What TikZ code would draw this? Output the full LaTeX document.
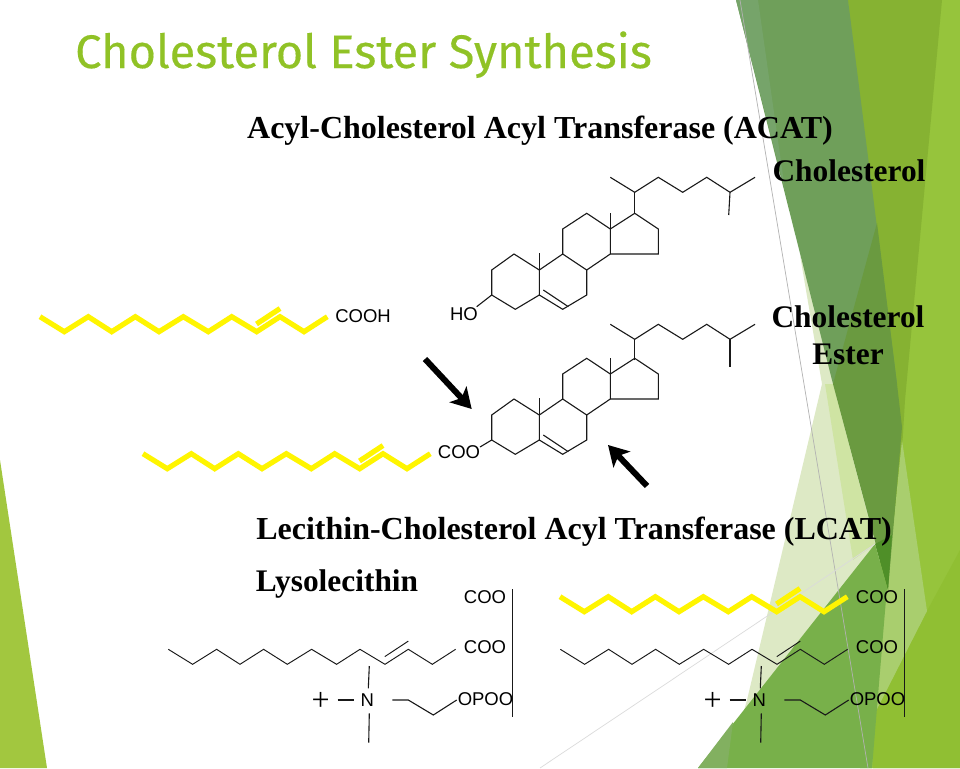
\documentclass[tikz,border=0pt]{standalone}
\usepackage{fontspec}
\setmainfont{Liberation Serif}
\newfontfamily\labelfont{Liberation Sans}
\newfontfamily\titlefont[FakeBold=0.35]{Fira Sans}
\usetikzlibrary{arrows.meta}
\definecolor{titlegreen}{HTML}{90C226}
\definecolor{facetleft}{HTML}{A2C73F}
\definecolor{facetbase}{HTML}{96C43C}
\definecolor{facetmid}{HTML}{86B232}
\definecolor{facetlow}{HTML}{90BF33}
\definecolor{facetlight}{HTML}{A9CE6E}
\definecolor{paleA}{HTML}{DDE9C5}
\definecolor{paleB}{HTML}{CFE4A3}
\definecolor{bandmain}{HTML}{6F9F5A}
\definecolor{bandedge}{HTML}{76A46A}
\definecolor{bandlow}{HTML}{6A9A40}
\definecolor{bandtip}{HTML}{4F8F28}
\definecolor{lowgreen}{HTML}{78B04A}
\definecolor{lowcorner}{HTML}{82B060}
\definecolor{fattyyellow}{HTML}{FFF500}
\tikzset{
  bond/.style={line width=1.1pt,black!90,line join=miter},
  fatty/.style={line width=5.2pt,fattyyellow,line join=miter},
  thinchain/.style={line width=0.95pt,black!90,line join=miter},
  bigarrow/.style={line width=6pt,black,-{Stealth[length=20pt,width=23pt,inset=5pt]}},
  head/.style={font=\bfseries\fontsize{32}{34}\selectfont,inner sep=0pt,anchor=base,text=black},
  subhead/.style={font=\bfseries\fontsize{31.4}{34}\selectfont,inner sep=0pt,anchor=base,text=black},
  atom/.style={font=\labelfont\fontsize{18.5}{20}\selectfont,inner sep=0pt,anchor=base,text=black},
  charge/.style={font=\rmfamily\fontsize{32}{34}\selectfont,inner sep=0pt,anchor=base,text=black},
}
\newcommand{\sterolrings}{%
  \draw[bond] (491.7,295) -- (491.7,270) -- (514,254) -- (539.3,270) -- (539.3,295) -- (515.3,309.3) -- cycle;
  \draw[bond] (539.3,270) -- (562.7,254) -- (586.7,270) -- (586.7,295) -- (562.7,309.3) -- (539.3,295);
  \draw[bond] (562.7,254) -- (562.7,229) -- (586.7,213.3) -- (610.3,229) -- (610.3,254) -- (586.7,270);
  \draw[bond] (610.3,254) -- (658.3,254) -- (658.3,229) -- (634.7,213.3) -- (610.3,229);
  \draw[bond] (610.3,229) -- (610.3,213.3);
  \draw[bond] (539.3,270) -- (539.3,253.3);
  \draw[bond] (543.3,290) -- (568.3,306.7);
}
\newcommand{\sidechain}{%
  \draw[bond] (634.7,213.3) -- (634.7,192.3);
  \draw[bond] (610.3,177.3) -- (634.7,192.3) -- (658.3,177.3) -- (682.7,192.3) -- (706.7,177.3) -- (730,192.3) -- (755,177.3);
}
\newcommand{\acylchain}[1]{%
  \draw[#1] (40,316.7) -- (64.3,331.7) -- (88.3,316.7) -- (111.7,331.7) -- (135.3,316.7) -- (159,331.7) -- (183.3,316.7) -- (208.3,331.7) -- (231.7,316.7) -- (256.7,331.7) -- (280,316.7) -- (304,331.7) -- (327.3,316.7);
  \draw[#1] (256.5,324) -- (280,308.5);
}
\newcommand{\lecithin}{%
  \begin{scope}[shift={(128.3,332.6)}]\acylchain{thinchain}\end{scope}
  \draw[bond] (512.3,589.3) -- (512.3,717.3);
  \node[atom] at (485,603) {COO};
  \node[atom] at (485,653) {COO};
  \node[atom] at (485.5,705) {OPOO};
  \node[atom] at (367.3,706) {N};
  \node[charge] at (320.7,710) {+};
  \draw[bond] (337.7,700) -- (354,700);
  \draw[bond] (369.3,666) -- (368.3,688.3);
  \draw[bond] (369.3,713.3) -- (368.7,742.7);
  \draw[bond] (392.3,700) -- (408.3,700) -- (433.3,715) -- (456.7,700);
}
\begin{document}
\begin{tikzpicture}[x=1pt,y=-1pt]
\useasboundingbox (0,0) rectangle (960,768);
\fill[white] (0,0) rectangle (960,768);
% background facets
\fill[facetleft] (0,460) -- (47,768) -- (0,768) -- cycle;
\fill[facetbase] (848,0) -- (960,0) -- (960,768) -- (860,768) -- cycle;
\fill[facetlow] (873,717) -- (927,611) -- (960,550) -- (960,768) -- (873,768) -- cycle;
\fill[facetmid] (848,0) -- (942,0) -- (905,400) -- (902,450) -- (888,590) -- cycle;
\fill[facetlight] (902,440) -- (927,611) -- (873,717) -- (887,587) -- cycle;
\fill[paleA] (800,255) -- (822,384) -- (747,700) -- (730,760) -- (880,560) -- (840,384) -- cycle;
\fill[paleB] (825,384) -- (833,384) -- (875,544) -- (853,560) -- cycle;
\fill[bandmain] (736,0) -- (848,0) -- (897,384) -- (833,384) -- cycle;
\fill[bandedge] (736,0) -- (758,0) -- (785,190) -- cycle;
\fill[bandlow] (877,223) -- (897,384) -- (902,427) -- (888,590) -- (833,384) -- cycle;
\fill[bandtip] (875,544) -- (892,535) -- (888,590) -- cycle;
\fill[lowgreen] (698,768) -- (875,544) -- (887,587) -- (872,768) -- cycle;
\fill[lowcorner] (698,768) -- (727,768) -- (733,722) -- cycle;
\draw[black!30,line width=0.7pt] (740,0) -- (868,768);
\draw[black!14,line width=0.7pt] (540,768) -- (875,544);
% texts
\node[font=\titlefont\fontsize{47}{50}\selectfont,text=titlegreen,inner sep=0pt,anchor=base west] (title) at (75,68) {Cholesterol Ester Synthesis};
\node[head] (acat) at (540,138) {Acyl-Cholesterol Acyl Transferase (ACAT)};
\node[subhead] (chol) at (849,181) {Cholesterol};
\node[subhead] (chole) at (848,327) {Cholesterol};
\node[subhead] (ester) at (848,364) {Ester};
\node[head] (lcat) at (574,539) {Lecithin-Cholesterol Acyl Transferase (LCAT)};
\node[subhead] (lyso) at (337,591) {Lysolecithin};
% cholesterol
\sterolrings
\sidechain
\draw[bond] (730,192.3) -- (728.7,215);
\draw[bond] (491.7,295) -- (476.7,306.7);
\node[atom] (ho) at (464,320) {HO};
% cholesterol ester
\begin{scope}[shift={(0,145)}]\sterolrings\end{scope}
\begin{scope}[shift={(0,147)}]\sidechain\end{scope}
\draw[bond] (730,339.3) -- (730,367.3);
\draw[bond] (491.7,440) -- (480,447);
\node[atom] (coo) at (459,458) {COO};
% yellow chains
\acylchain{fatty}
\node[atom] (cooh) at (363,322) {COOH};
\begin{scope}[shift={(103,137)}]\acylchain{fatty}\end{scope}
\begin{scope}[shift={(520,280)}]\acylchain{fatty}\end{scope}
% arrows
\coordinate (a1s) at (425,359);
\coordinate (a1e) at (471.7,409);
\coordinate (a2s) at (647,486);
\coordinate (a2e) at (608,445);
\draw[bigarrow] (a1s) -- (a1e);
\draw[bigarrow] (a2s) -- (a2e);
% lecithin pair
\lecithin
\begin{scope}[shift={(392,0)}]\lecithin\end{scope}
\end{tikzpicture}
\end{document}
